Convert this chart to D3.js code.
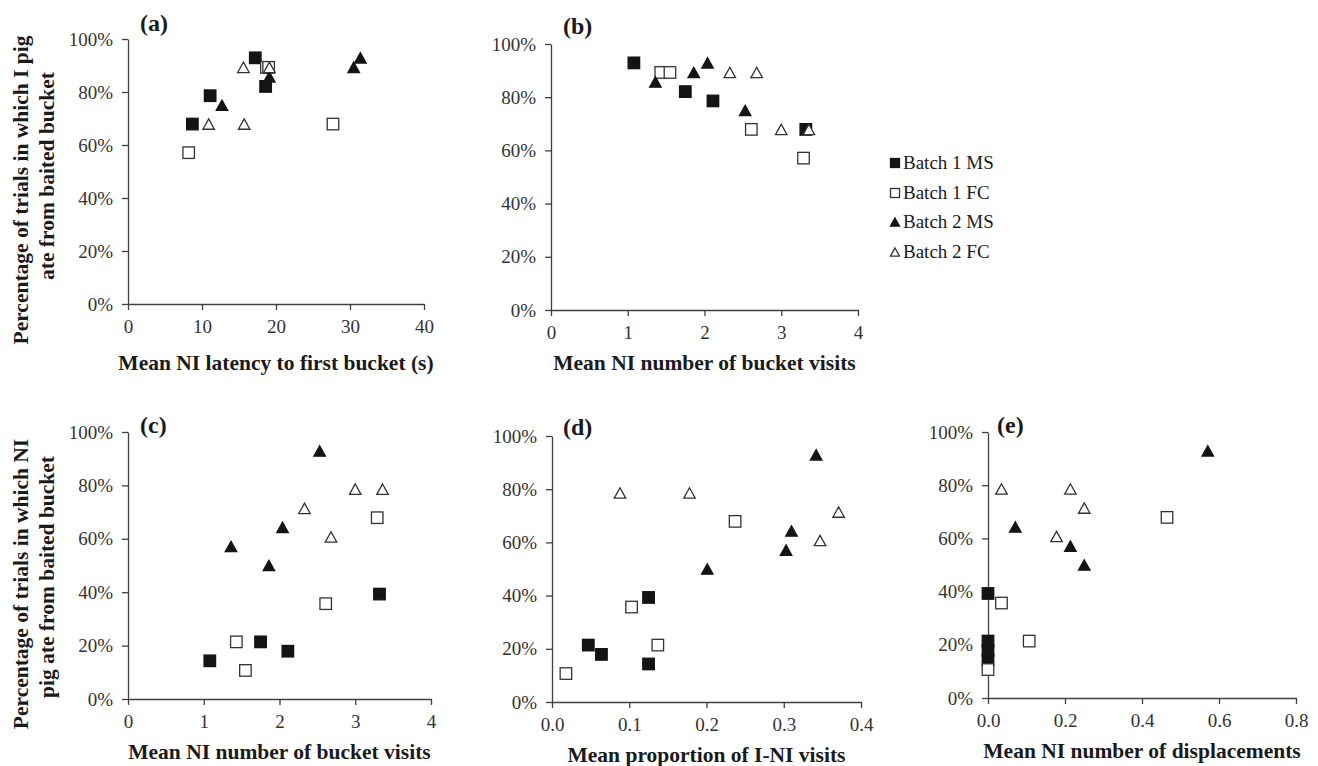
<!DOCTYPE html>
<html>
<head>
<meta charset="utf-8">
<script src="https://cdn.jsdelivr.net/npm/d3@7"></script>
<style>
  body { margin: 0; background: #fff; }
  svg text { font-family: "Liberation Serif", "Times New Roman", serif; }
</style>
</head>
<body>
<svg id="chart" width="1318" height="766"></svg>
<script>
// series order: Batch 1 MS, Batch 1 FC, Batch 2 MS, Batch 2 FC
var seriesNames = ['Batch 1 MS', 'Batch 1 FC', 'Batch 2 MS', 'Batch 2 FC'];
var yTicks = [0, 20, 40, 60, 80, 100];

// (a) latency to first bucket vs % I pig ate
var latencyX = [[8.7, 11.1, 17.2, 18.6], [8.2, 18.7, 19.0, 27.7], [12.7, 19.1, 30.5, 31.4], [10.9, 15.6, 15.7, 19.1]];
var latencyY = [[67.9, 78.6, 92.9, 82.1], [57.1, 89.3, 89.3, 67.9], [75.0, 85.7, 89.3, 92.9], [67.9, 89.3, 67.9, 89.3]];

// (b) and (c) share the NI bucket visits
var visitsX = [[1.08, 1.75, 2.11, 3.32], [1.43, 1.55, 2.61, 3.29], [1.36, 1.86, 2.04, 2.53], [2.33, 2.68, 3.0, 3.36]];
var visitsIY = [[92.9, 82.1, 78.6, 67.9], [89.3, 89.3, 67.9, 57.1], [85.7, 89.3, 92.9, 75.0], [89.3, 89.3, 67.9, 67.9]];

// % NI pig ate, same order in (c), (d), (e)
var niAteY = [[14.3, 21.4, 17.9, 39.3], [21.4, 10.7, 35.7, 67.9], [57.1, 50.0, 64.3, 92.9], [71.4, 60.7, 78.6, 78.6]];
var proportionX = [[0.125, 0.047, 0.064, 0.125], [0.137, 0.018, 0.103, 0.237], [0.303, 0.201, 0.310, 0.342], [0.371, 0.347, 0.088, 0.178]];
var displaceX = [[0, 0, 0, 0], [0.107, 0, 0.035, 0.465], [0.214, 0.250, 0.071, 0.571], [0.250, 0.178, 0.035, 0.214]];

var panels = [
  {label: '(a)', xs: latencyX, ys: latencyY, domain: [0, 40], ticks: [0, 10, 20, 30, 40], fmt: d3.format('d'),
   left: 128, top: 39, w: 296, h: 265, title: 'Mean NI latency to first bucket (s)', ty: 370, lx: 140, ly: 31},
  {label: '(b)', xs: visitsX, ys: visitsIY, domain: [0, 4], ticks: [0, 1, 2, 3, 4], fmt: d3.format('d'),
   left: 551, top: 44, w: 307, h: 266, title: 'Mean NI number of bucket visits', ty: 370, lx: 563, ly: 34},
  {label: '(c)', xs: visitsX, ys: niAteY, domain: [0, 4], ticks: [0, 1, 2, 3, 4], fmt: d3.format('d'),
   left: 128, top: 432, w: 303, h: 267, title: 'Mean NI number of bucket visits', ty: 759, lx: 140, ly: 433},
  {label: '(d)', xs: proportionX, ys: niAteY, domain: [0, 0.4], ticks: [0, 0.1, 0.2, 0.3, 0.4], fmt: d3.format('.1f'),
   left: 552, top: 436, w: 309, h: 266, title: 'Mean proportion of I-NI visits', ty: 762, lx: 563, ly: 435},
  {label: '(e)', xs: displaceX, ys: niAteY, domain: [0, 0.8], ticks: [0, 0.2, 0.4, 0.6, 0.8], fmt: d3.format('.1f'),
   left: 988, top: 432, w: 308, h: 266, title: 'Mean NI number of displacements', ty: 758, lx: 997, ly: 433}
];

var svg = d3.select('#chart');
var axisColor = '#404040';

var drawMarker = function (g, type, x, y, s) {
  // type 0 filled square, 1 open square, 2 filled triangle, 3 open triangle
  var filled = (type === 0 || type === 2);
  if (type < 2) {
    g.append('rect')
      .attr('x', x - s / 2).attr('y', y - s / 2)
      .attr('width', s).attr('height', s)
      .attr('fill', filled ? '#141414' : '#fff')
      .attr('stroke', filled ? '#141414' : '#333')
      .attr('stroke-width', 1.3);
  } else {
    var h = s * 0.9;
    g.append('path')
      .attr('d', 'M' + x + ',' + (y - h / 2) + 'L' + (x + s / 2) + ',' + (y + h / 2) + 'L' + (x - s / 2) + ',' + (y + h / 2) + 'Z')
      .attr('fill', filled ? '#141414' : '#fff')
      .attr('stroke', filled ? '#141414' : '#333')
      .attr('stroke-width', 1.3)
      .attr('stroke-linejoin', 'miter');
  }
};

panels.forEach(function (p) {
  var x = d3.scaleLinear().domain(p.domain).range([p.left, p.left + p.w]);
  var y = d3.scaleLinear().domain([0, 100]).range([p.top + p.h, p.top]);

  var ya = svg.append('g')
    .attr('transform', 'translate(' + p.left + ',0)')
    .call(d3.axisLeft(y).tickValues(yTicks).tickSize(6).tickSizeOuter(0).tickPadding(9)
      .tickFormat(function (d) { return d + '%'; }));
  var xa = svg.append('g')
    .attr('transform', 'translate(0,' + (p.top + p.h) + ')')
    .call(d3.axisBottom(x).tickValues(p.ticks).tickSize(6).tickSizeOuter(0).tickPadding(10).tickFormat(p.fmt));

  [ya, xa].forEach(function (a) {
    a.selectAll('path, line').attr('stroke', axisColor).attr('stroke-width', 1.3);
    a.selectAll('text').attr('fill', '#333').style('font-size', '19px');
  });

  var marks = svg.append('g');
  p.xs.forEach(function (xv, si) {
    xv.forEach(function (v, i) {
      drawMarker(marks, si, x(v), y(p.ys[si][i]), 11.5);
    });
  });

  svg.append('text')
    .attr('x', p.left + p.w / 2).attr('y', p.ty)
    .attr('text-anchor', 'middle')
    .attr('fill', '#1a1a1a')
    .style('font-size', '21.5px').style('font-weight', 'bold')
    .text(p.title);

  svg.append('text')
    .attr('x', p.lx).attr('y', p.ly)
    .attr('fill', '#1a1a1a')
    .style('font-size', '24px').style('font-weight', 'bold')
    .text(p.label);
});

// y axis titles
var yTitle = function (lines, cx, cy) {
  lines.forEach(function (t, i) {
    svg.append('text')
      .attr('transform', 'translate(' + cx[i] + ',' + cy[i] + ') rotate(-90)')
      .attr('text-anchor', 'middle')
      .attr('dominant-baseline', 'central')
      .attr('fill', '#1a1a1a')
      .style('font-size', '21.5px').style('font-weight', 'bold')
      .text(t);
  });
};
yTitle(['Percentage of trials in which I pig', 'ate from baited bucket'], [21, 47], [190, 176]);
yTitle(['Percentage of trials in which NI', 'pig ate from baited bucket'], [21, 47], [584, 577]);

// legend
var legend = svg.append('g');
var legendY = [163, 193, 222, 252];
seriesNames.forEach(function (name, i) {
  drawMarker(legend, i, 895, legendY[i], 9);
  legend.append('text')
    .attr('x', 903).attr('y', legendY[i] + 6)
    .attr('fill', '#1a1a1a')
    .style('font-size', '19px')
    .text(name);
});
</script>
</body>
</html>
